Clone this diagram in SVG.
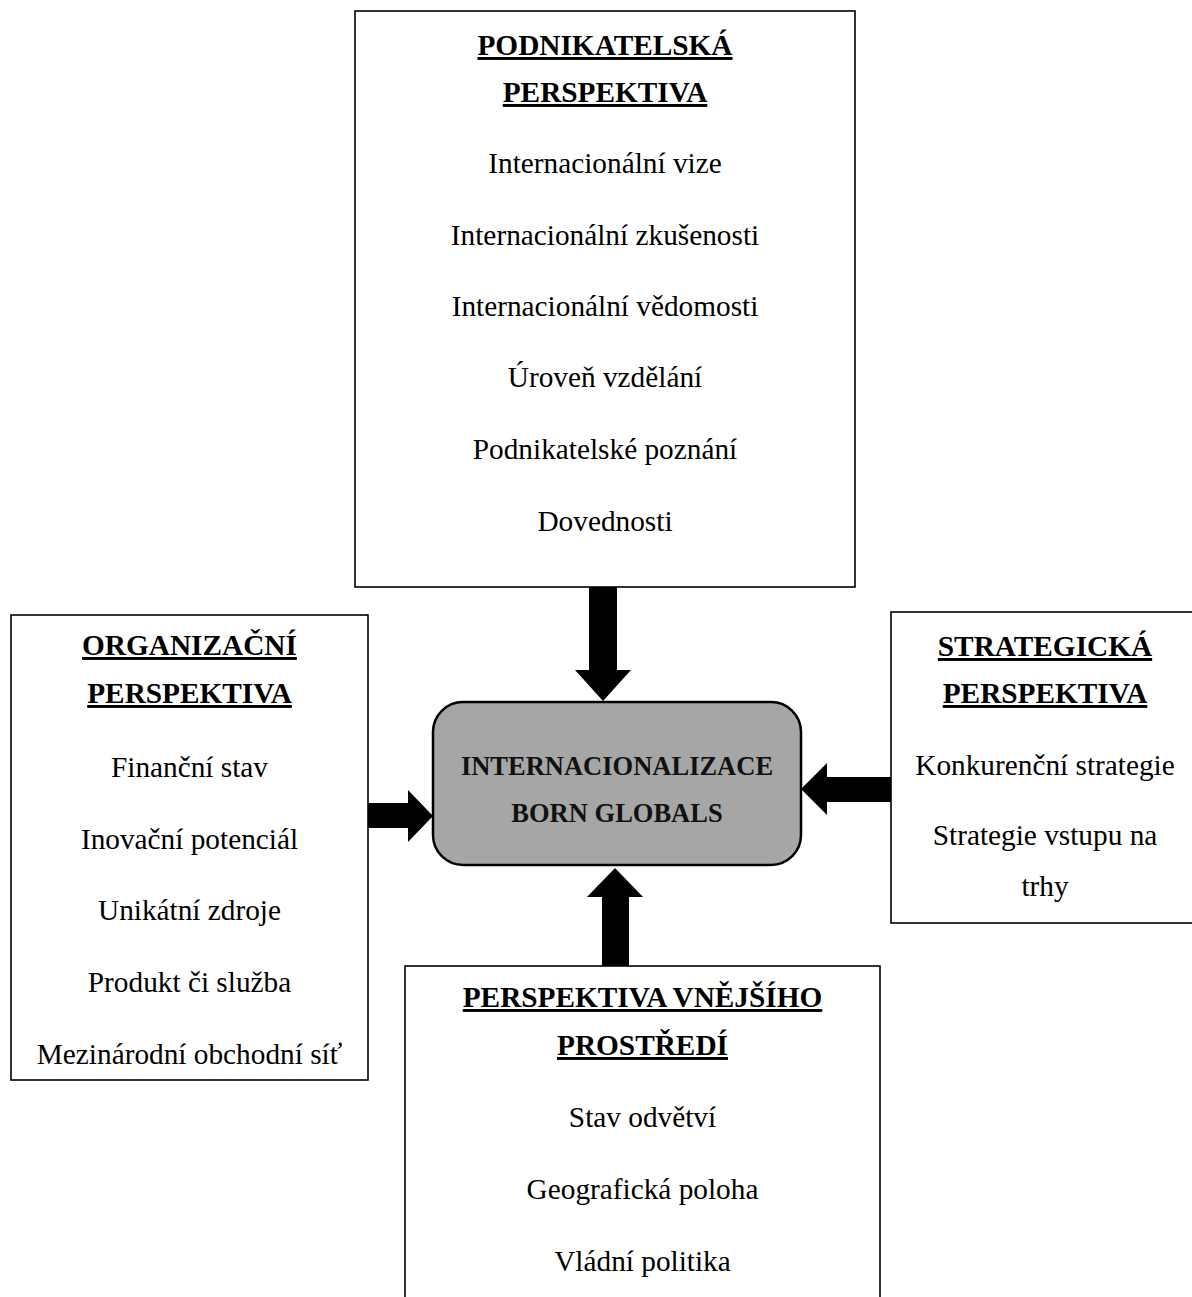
<svg xmlns="http://www.w3.org/2000/svg" width="1192" height="1297" viewBox="0 0 1192 1297">
<style>
.box{fill:#fff;stroke:#000;stroke-width:1.6}
.hub{fill:#a6a6a6;stroke:#000;stroke-width:2.5}
.t{font-family:"Liberation Serif","Times New Roman",serif;font-size:29.3px;fill:#000;text-anchor:middle}
.h{font-weight:bold;text-decoration:underline;text-decoration-thickness:2.5px;text-underline-offset:4px}
.c{font-family:"Liberation Serif","Times New Roman",serif;font-size:26.5px;font-weight:bold;fill:#111;text-anchor:middle}
.arr{fill:#000}
</style>
<rect width="1192" height="1297" fill="#fff"/>
<g id="connectors">
<polygon class="arr" points="589,587 617,587 617,670 631,670 603,701 575,670 589,670"/>
<polygon class="arr" points="368,803 408,803 408,790 433,816 408,842 408,828 368,828"/>
<polygon class="arr" points="891,777 827,777 827,763 801,789 827,815 827,802 891,802"/>
<polygon class="arr" points="602,966 602,897 587,897 615,868 643,897 629,897 629,966"/>
</g>
<g id="node-podnikatelska">
<rect class="box" x="355" y="11" width="500" height="576"/>
<text class="t h" x="605" y="55">PODNIKATELSKÁ</text>
<text class="t h" x="605" y="102">PERSPEKTIVA</text>
<text class="t" x="605" y="173">Internacionální vize</text>
<text class="t" x="605" y="245">Internacionální zkušenosti</text>
<text class="t" x="605" y="316">Internacionální vědomosti</text>
<text class="t" x="605" y="387">Úroveň vzdělání</text>
<text class="t" x="605" y="459">Podnikatelské poznání</text>
<text class="t" x="605" y="531">Dovednosti</text>
</g>
<g id="node-organizacni">
<rect class="box" x="11" y="615" width="357" height="465"/>
<text class="t h" x="189.5" y="655">ORGANIZAČNÍ</text>
<text class="t h" x="189.5" y="703">PERSPEKTIVA</text>
<text class="t" x="189.5" y="777">Finanční stav</text>
<text class="t" x="189.5" y="849">Inovační potenciál</text>
<text class="t" x="189.5" y="920">Unikátní zdroje</text>
<text class="t" x="189.5" y="992">Produkt či služba</text>
<text class="t" x="189.5" y="1064">Mezinárodní obchodní síť</text>
</g>
<g id="node-strategicka">
<rect class="box" x="891" y="612" width="310" height="311"/>
<text class="t h" x="1045" y="656">STRATEGICKÁ</text>
<text class="t h" x="1045" y="703">PERSPEKTIVA</text>
<text class="t" x="1045" y="775">Konkurenční strategie</text>
<text class="t" x="1045" y="845">Strategie vstupu na</text>
<text class="t" x="1045" y="896">trhy</text>
</g>
<g id="node-vnejsi">
<rect class="box" x="405" y="966" width="475" height="345"/>
<text class="t h" x="642.5" y="1007">PERSPEKTIVA VNĚJŠÍHO</text>
<text class="t h" x="642.5" y="1055">PROSTŘEDÍ</text>
<text class="t" x="642.5" y="1127">Stav odvětví</text>
<text class="t" x="642.5" y="1199">Geografická poloha</text>
<text class="t" x="642.5" y="1271">Vládní politika</text>
</g>
<g id="node-center">
<rect class="hub" x="433" y="702" width="368" height="163" rx="30" ry="30"/>
<text class="c" x="617" y="775">INTERNACIONALIZACE</text>
<text class="c" x="617" y="822">BORN GLOBALS</text>
</g>
</svg>
